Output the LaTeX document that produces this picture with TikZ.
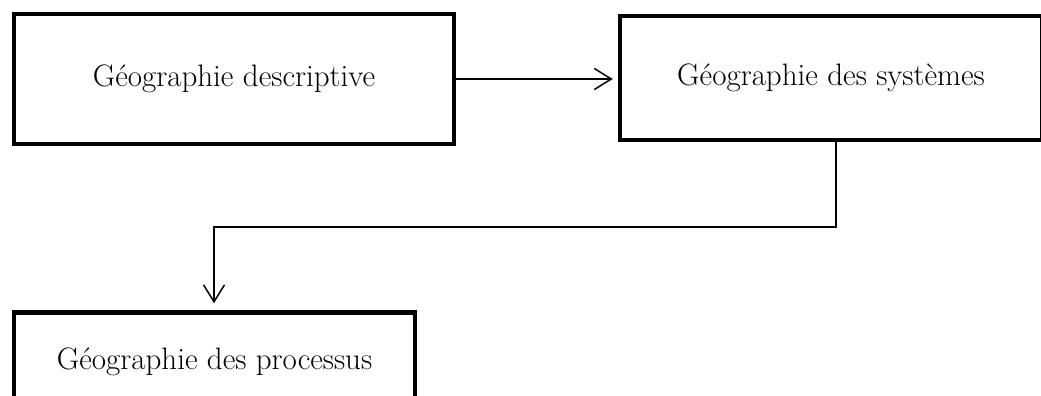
\documentclass[tikz,border=0pt]{standalone}
\usepackage{fontspec}
\setmainfont{Latin Modern Roman}
\usetikzlibrary{arrows.meta}
\begin{document}
\begin{tikzpicture}[x=1pt,y=-1pt,
  boxnode/.style={draw=black, line width=4.5pt, inner sep=0pt, align=center,
    font=\fontsize{31}{36}\selectfont},
  conn/.style={draw=black, line width=1.5pt, -{Straight Barb[length=17pt,width=21pt,line width=1.5pt]}}]
\clip (0,0) rectangle (1041,396);
\fill[white] (0,0) rectangle (1041,396);
\node[boxnode, minimum width=440pt, minimum height=130pt] (desc) at (234,79) {Géographie descriptive};
\node[boxnode, minimum width=422pt, minimum height=123.5pt] (sys) at (831,78) {Géographie des systèmes};
\node[boxnode, minimum width=401pt, minimum height=99pt] (proc) at (214.5,362) {Géographie des processus};
\coordinate (c1) at (836,227);
\coordinate (c2) at (214,227);
\draw[conn, shorten >=5pt] (desc.east) -- (desc.east -| sys.west);
\draw[conn, shorten >=7pt] (sys.south -| c1) -- (c1) -- (c2) -- (c2 |- proc.north);
\end{tikzpicture}
\end{document}
